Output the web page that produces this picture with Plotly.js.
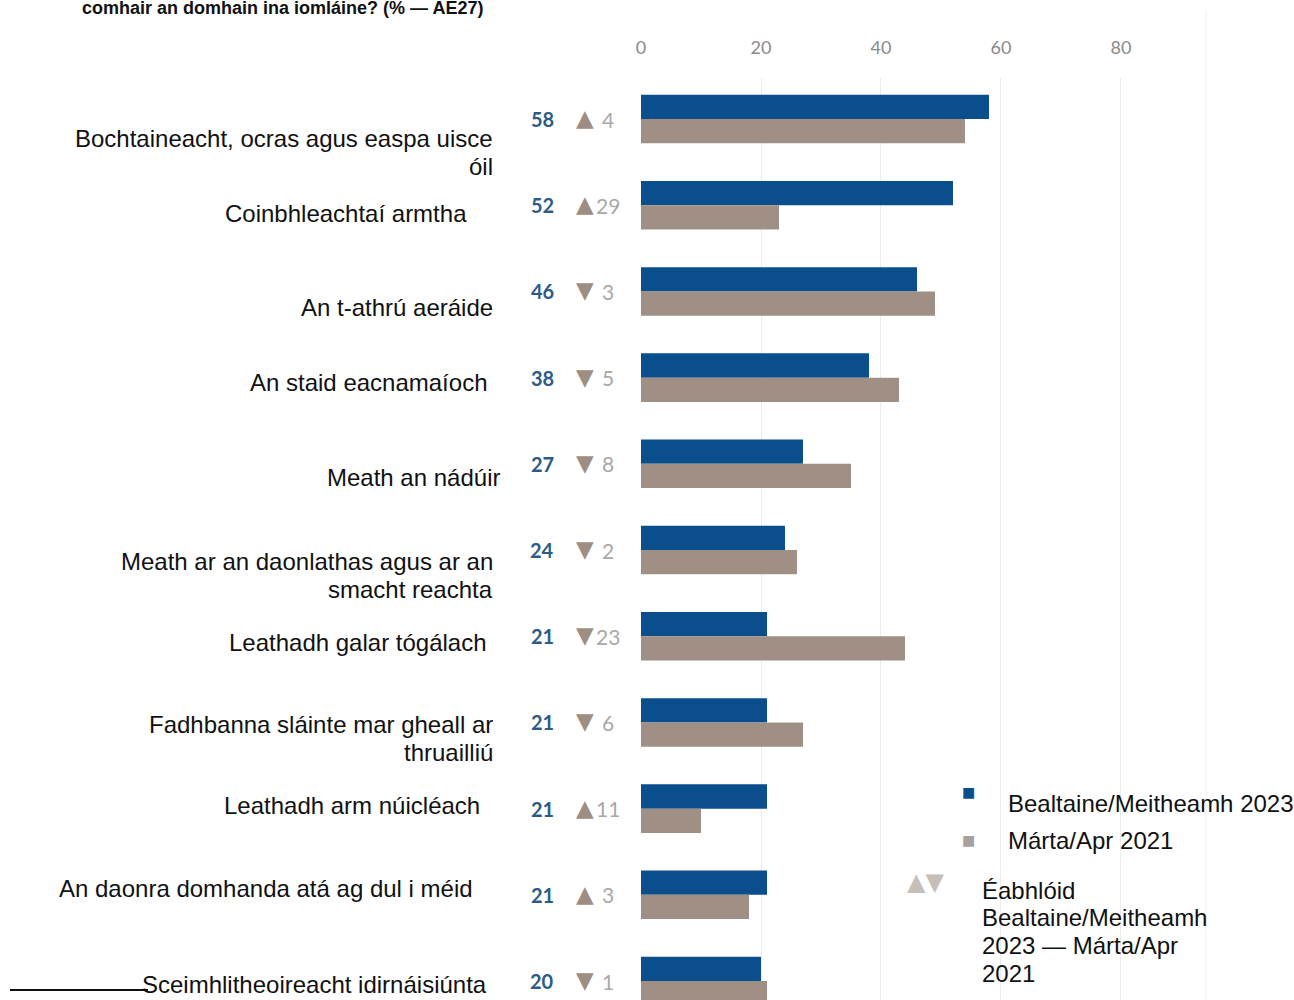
<!DOCTYPE html>
<html>
<head>
<meta charset="utf-8">
<script src="https://cdn.plot.ly/plotly-3.0.1.min.js"></script>
<style>html,body{margin:0;padding:0;background:#fff;overflow:hidden}#chart{width:1294px;height:1000px}</style>
</head>
<body>
<div id="chart"></div>
<script>
// ---- data ----
const categories = [
  "Bochtaineacht, ocras agus easpa uisce<br>óil",
  "Coinbhleachtaí armtha",
  "An t-athrú aeráide",
  "An staid eacnamaíoch",
  "Meath an nádúir",
  "Meath ar an daonlathas agus ar an<br>smacht reachta",
  "Leathadh galar tógálach",
  "Fadhbanna sláinte mar gheall ar<br>thruailliú",
  "Leathadh arm núicléach",
  "An daonra domhanda atá ag dul i méid",
  "Sceimhlitheoireacht idirnáisiúnta"
];
const values2023 = [58, 52, 46, 38, 27, 24, 21, 21, 21, 21, 20];
const values2021 = [54, 23, 49, 43, 35, 26, 44, 27, 10, 18, 21];
const change = [4, 29, -3, -5, -8, -2, -23, -6, 11, 3, -1];
const tickValues = [0, 20, 40, 60, 80];
const seriesNames = ["Bealtaine/Meitheamh 2023", "Márta/Apr 2021"];
const titleText = "comhair an domhain ina iomláine? (% — AE27)";
const changeLegendText = "Éabhlóid<br>Bealtaine/Meitheamh<br>2023 — Márta/Apr<br>2021";

// ---- layout helpers (pixel geometry of the picture) ----
const PL = 641, PR = 1206, PT = 78, PB = 1000, W = 1294, H = 1000;
const px = x => (x - PL) / (PR - PL);
const py = y => (PB - y) / (PB - PT);
// [right-edge x shift, y shift of block centre] for each category label
const labelOffsets = [[-146,-33],[-172,-8],[-146,-16],[-152,-5],[-139,-14],[-146,-25],[-152,-6],[-146,-16],[-159,3],[-166,6],[-152,-3]];
const LINE_GAP = 28;

const BLUE = '#0a4f8c', BROWN = '#a08f84';
const LABEL_FONT = 'Liberation Sans, Arial, sans-serif';
const LABEL_SIZE = 24;

const traces = [
  {type:'bar', orientation:'h', name:seriesNames[0], y:categories, x:values2023,
   marker:{color:BLUE}, hoverinfo:'x'},
  {type:'bar', orientation:'h', name:seriesNames[1], y:categories, x:values2021,
   marker:{color:BROWN}, hoverinfo:'x'}
];

const annotations = [];
categories.forEach((c, i) => {
  const lines = c.split('<br>');
  lines.forEach((ln, j) => {
    annotations.push({xref:'x', yref:'y', x:0, y:c, xanchor:'right', yanchor:'middle', align:'right',
      xshift:labelOffsets[i][0], yshift:labelOffsets[i][1] + ((lines.length - 1) / 2 - j) * LINE_GAP,
      showarrow:false, text:ln, font:{family:LABEL_FONT, size:LABEL_SIZE, color:'#111'}});
  });
  annotations.push({xref:'x', yref:'y', x:0, y:c, xanchor:'center', yanchor:'middle',
    xshift:542 - PL, yshift:0, showarrow:false, text:'<b>' + values2023[i] + '</b>',
    font:{family:'Lato, sans-serif', size:20, color:'#2c5b88'}});
  annotations.push({xref:'x', yref:'y', x:0, y:c, xanchor:'center', yanchor:'middle',
    xshift:585 - PL, yshift:1, showarrow:false, text:change[i] >= 0 ? '▲' : '▼',
    font:{family:'DejaVu Sans, sans-serif', size:23, color:'#9d8d82'}});
  annotations.push({xref:'x', yref:'y', x:0, y:c, xanchor:'center', yanchor:'middle',
    xshift:608 - PL, yshift:0, showarrow:false, text:String(Math.abs(change[i])),
    font:{family:'Lato, sans-serif', size:21, color:'#a8a8a8'}});
});

// title (partly cut off at top, as in the reference)
annotations.push({xref:'paper', yref:'paper', x:px(282), y:py(7.5), xanchor:'center', yanchor:'middle',
  showarrow:false, text:'<b>' + titleText + '</b>', font:{family:LABEL_FONT, size:18, color:'#111'}});

// legend
annotations.push({xref:'paper', yref:'paper', x:px(968), y:py(792), xanchor:'center', yanchor:'middle',
  showarrow:false, text:'■', font:{family:'DejaVu Sans', size:14, color:BLUE}});
annotations.push({xref:'paper', yref:'paper', x:px(968), y:py(840), xanchor:'center', yanchor:'middle',
  showarrow:false, text:'■', font:{family:'DejaVu Sans', size:14, color:'#a9a09b'}});
annotations.push({xref:'paper', yref:'paper', x:px(1006), y:py(803), xanchor:'left', yanchor:'middle',
  showarrow:false, text:seriesNames[0], font:{family:LABEL_FONT, size:LABEL_SIZE, color:'#111'}});
annotations.push({xref:'paper', yref:'paper', x:px(1006), y:py(840), xanchor:'left', yanchor:'middle',
  showarrow:false, text:seriesNames[1], font:{family:LABEL_FONT, size:LABEL_SIZE, color:'#111'}});
annotations.push({xref:'paper', yref:'paper', x:px(925), y:py(882), xanchor:'center', yanchor:'middle',
  showarrow:false, text:'▲▼', font:{family:'DejaVu Sans', size:24, color:'#c6beb8'}});
changeLegendText.split('<br>').forEach((ln, j) => {
  annotations.push({xref:'paper', yref:'paper', x:px(980), y:py(890 + j * 27.7), xanchor:'left', yanchor:'middle',
    showarrow:false, text:ln, font:{family:LABEL_FONT, size:LABEL_SIZE, color:'#111'}});
});

const layout = {
  width:W, height:H,
  margin:{l:PL, r:W - PR, t:PT, b:H - PB, pad:0},
  paper_bgcolor:'#fff', plot_bgcolor:'#fff',
  showlegend:false,
  barmode:'group', bargap:0.437, bargroupgap:0,
  xaxis:{side:'top', range:[0, 94.17], tickvals:tickValues, showgrid:true, gridcolor:'#ebebeb', gridwidth:1,
    zeroline:false, showline:false, ticks:'outside', ticklen:16, tickcolor:'rgba(0,0,0,0)',
    tickfont:{family:'Lato, sans-serif', size:18, color:'#8a8a8a'}, fixedrange:true},
  yaxis:{type:'category', range:[10.22, -0.476], showticklabels:false, showgrid:false, zeroline:false,
    showline:false, ticks:'', fixedrange:true},
  annotations:annotations,
  shapes:[
    {type:'line', xref:'paper', yref:'paper', x0:1, x1:1, y0:0, y1:py(10), line:{color:'#f0f0f0', width:1}},
    {type:'line', xref:'paper', yref:'paper', x0:px(10), x1:px(148), y0:py(990), y1:py(990), line:{color:'#111', width:2}}
  ]
};

Plotly.newPlot('chart', traces, layout, {displayModeBar:false, staticPlot:true});
</script>
</body>
</html>
